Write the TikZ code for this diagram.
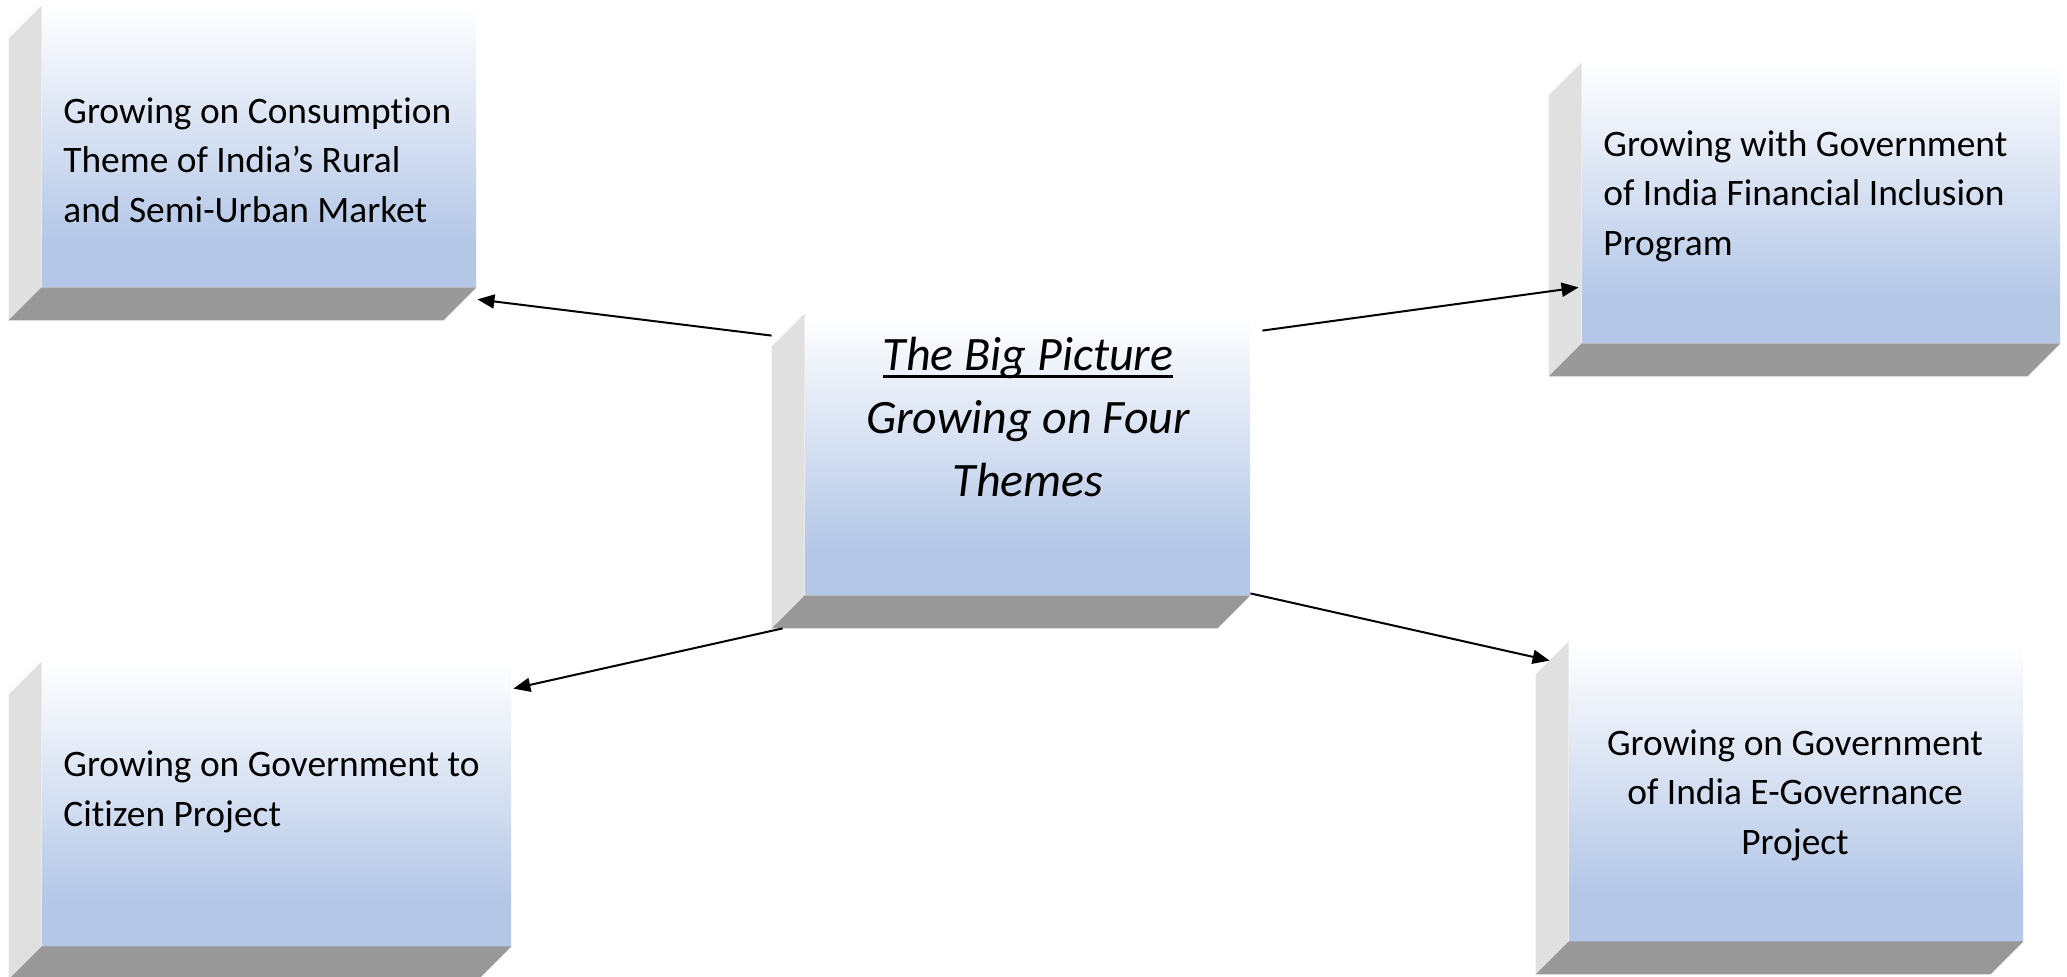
\documentclass[tikz,border=0pt]{standalone}
\usepackage{fontspec}
\setmainfont{Carlito}[Ligatures=CommonOff]
\usetikzlibrary{arrows.meta,calc}

\definecolor{faceblue}{RGB}{180,199,231}
\definecolor{sidegrey}{RGB}{224,224,224}
\definecolor{floorgrey}{RGB}{152,152,152}
\pgfdeclareverticalshading{slabfill}{100bp}{color(0bp)=(faceblue); color(33bp)=(faceblue); color(75bp)=(white); color(100bp)=(white)}
\newcommand\underrule[1]{\setbox0\hbox{#1}\rlap{\rule[-4pt]{\wd0}{1.4pt}}#1}

\begin{document}
\begin{tikzpicture}[x=0.5pt,y=-0.5pt,
  >={Triangle[length=8.5pt,width=7pt]},
  face/.style={rectangle,inner sep=0pt,shade,shading=slabfill},
  theme/.style={inner sep=0pt,font=\fontsize{18.7}{24.7}\selectfont},
  title/.style={inner sep=0pt,align=center,font=\fontsize{24}{31.6}\selectfont\itshape}]
\useasboundingbox (0,0) rectangle (2067,977);

\node [face,minimum width=217pt,minimum height=140.5pt] (rural)   at ( 259,146.5) {};
\node [face,minimum width=239pt,minimum height=140pt]   (fin)     at (1821,203)   {};
\node [face,minimum width=222.5pt,minimum height=140.5pt] (big)   at (1027.5,454.5) {};
\node [face,minimum width=234.5pt,minimum height=142pt] (citizen) at ( 276.5,804) {};
\node [face,minimum width=227pt,minimum height=149.5pt] (egov)    at (1796,791.5) {};

\foreach \n in {rural,fin,big,citizen,egov} {
  \fill [sidegrey]  (\n.north west) -- ++(-33,33) -- ($(\n.south west)+(-33,33)$)
    -- (\n.south west) -- cycle;
  \fill [floorgrey] (\n.south west) -- (\n.south east) -- ++(-33,33)
    -- ($(\n.south west)+(-33,33)$) -- cycle;
}

\node [theme,anchor=west,align=left] (ruraltext) at (63,160)
  {Growing on Consumption\\Theme of India’s Rural\\and Semi-Urban Market};
\node [theme,anchor=west,align=left] (fintext) at (1603,196)
  {Growing with Government\\of India Financial Inclusion\\Program};
\node [theme,anchor=west,align=left] (citizentext) at (63,792)
  {Growing on Government to\\Citizen Project};
\node [theme,align=center] (egovtext) at (1795,795)
  {Growing on Government\\of India E-Governance\\Project};
\node [title] (bigtext) at (1028,417)
  {\underrule{The Big Picture}\\Growing on Four\\Themes};

\draw [->,line width=1pt] ([shift={(-33,22)}]big.north west) -- ([shift={(1,12)}]rural.south east);
\draw [->,line width=1pt] ([shift={(12,17)}]big.north east) -- ([shift={(-3,-56)}]fin.south west);
\draw [->,line width=1pt] ([shift={(-22,33)}]big.south west) -- ([shift={(2,27)}]citizen.north east);
\draw [->,line width=1pt] ([shift={(0,-2)}]big.south east) -- ([shift={(-19,19)}]egov.north west);
\end{tikzpicture}
\end{document}
